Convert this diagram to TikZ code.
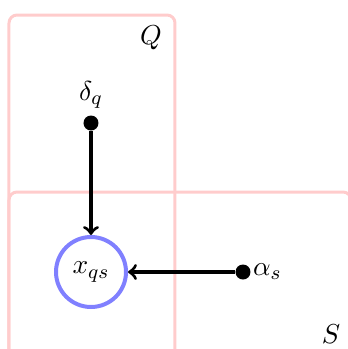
\documentclass[tikz,border=0pt]{standalone}
\usetikzlibrary{positioning}
\tikzset{
	plate/.style={draw=red!20, line width=1.2pt, rounded corners=3.2pt},
	latent/.style={circle, draw=blue!50, line width=1.6pt, minimum size=28pt, inner sep=0pt},
	param/.style={circle, fill=black, minimum size=6pt, inner sep=0pt},
	edge/.style={->, line width=1.3pt}
}
\begin{document}
\begin{tikzpicture}[x=0.4pt, y=-0.4pt, line join=round, >=to, font=\fontsize{11}{13}\selectfont]
				\useasboundingbox (0,0) rectangle (348,349);
				\begin{scope}
				\clip (0,0) rectangle (348,349);
				\draw[plate] (9,15) rectangle (175,380);
				\draw[plate] (9,192) rectangle (351,380);
				\end{scope}
				\node at (151,38) {$Q$};
				\node at (331,334) {$S$};
				\node[latent] (xqs) at (91,272) {$x_{qs}$};
				\node[param] (delta) at (91,123) {};
				\node[above=-1pt of delta] {$\delta_q$};
				\node[param] (alpha) at (243,272) {};
				\node[right=-2.7pt of alpha] {$\alpha_s$};
				\draw[edge] (delta) -- (xqs);
				\draw[edge] (alpha) -- (xqs);
			\end{tikzpicture}
\end{document}
